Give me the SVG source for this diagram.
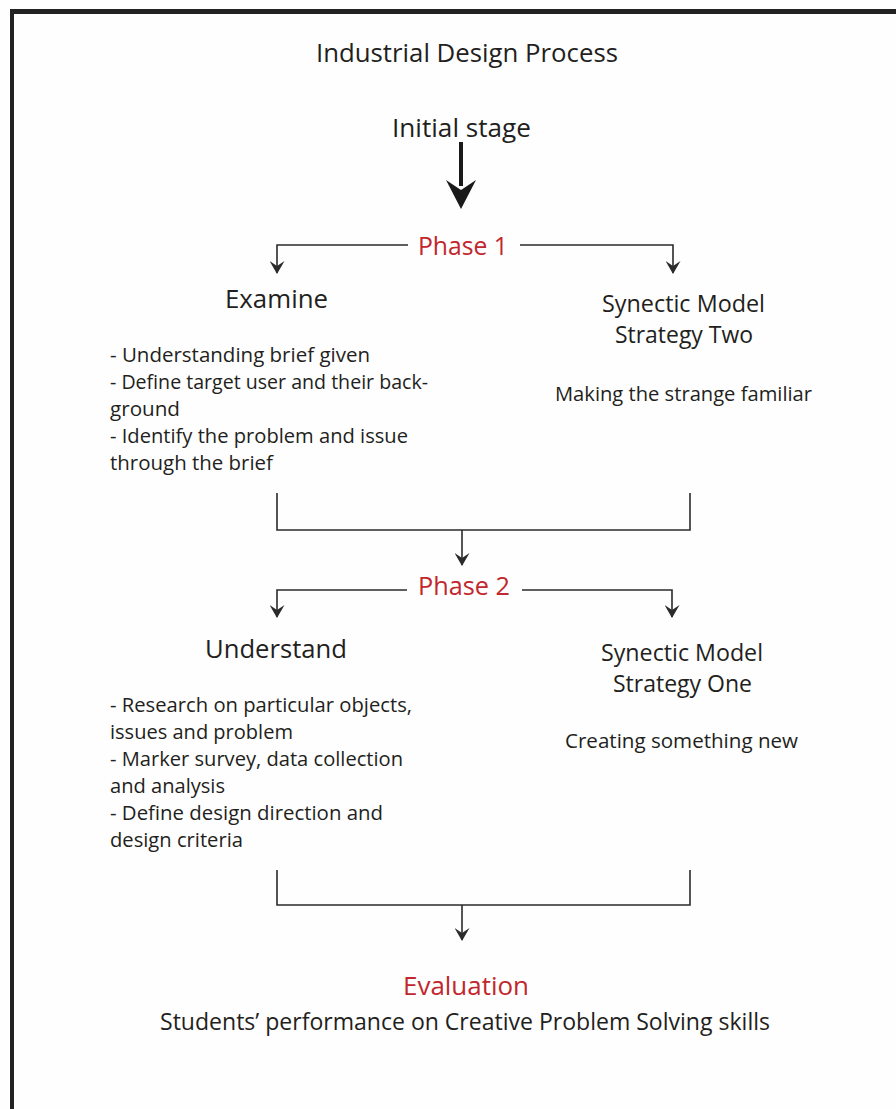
<svg xmlns="http://www.w3.org/2000/svg" width="896" height="1109" viewBox="0 0 896 1109">
<defs>
<style>
text{font-family:"Open Sans","Liberation Sans",sans-serif;fill:#231f20}
.red{fill:#c1272d}
.h{font-size:26px}
.b{font-size:19.5px}
.s{font-size:23px}
.c{fill:none;stroke:#2b2b2b;stroke-width:1.6}
</style>
<marker id="ah" markerWidth="13" markerHeight="15" refX="12" refY="7.5" orient="auto" markerUnits="userSpaceOnUse" viewBox="0 0 13 15">
<path d="M0,0 L5,7.5 L0,15 L13,7.5 Z" fill="#2b2b2b"/>
</marker>
</defs>
<rect width="896" height="1109" fill="#fefefe"/>
<g id="frame" fill="#222">
<rect x="10" y="9" width="886" height="5"/>
<rect x="10" y="9" width="4" height="1100"/>
</g>
<g id="title"><text x="316" y="62" font-size="26" textLength="302" lengthAdjust="spacingAndGlyphs">Industrial Design Process</text></g>
<g id="initial"><text class="h" x="392" y="137" textLength="139" lengthAdjust="spacingAndGlyphs">Initial stage</text></g>
<g id="phase1"><text class="h red" x="418" y="255" textLength="90" lengthAdjust="spacingAndGlyphs">Phase 1</text></g>
<g id="examine">
<text class="h" x="225" y="308" textLength="103" lengthAdjust="spacingAndGlyphs">Examine</text>
<text class="b" x="110" y="362" textLength="260" lengthAdjust="spacingAndGlyphs">- Understanding brief given</text>
<text class="b" x="110" y="389" textLength="318" lengthAdjust="spacingAndGlyphs">- Define target user and their back-</text>
<text class="b" x="110" y="416" textLength="70" lengthAdjust="spacingAndGlyphs">ground</text>
<text class="b" x="110" y="443" textLength="298" lengthAdjust="spacingAndGlyphs">- Identify the problem and issue</text>
<text class="b" x="110" y="470" textLength="163" lengthAdjust="spacingAndGlyphs">through the brief</text>
</g>
<g id="synectic2">
<text class="s" x="602" y="312" textLength="163" lengthAdjust="spacingAndGlyphs">Synectic Model</text>
<text class="s" x="615" y="343" textLength="138" lengthAdjust="spacingAndGlyphs">Strategy Two</text>
<text class="b" x="555" y="401" textLength="257" lengthAdjust="spacingAndGlyphs">Making the strange familiar</text>
</g>
<g id="phase2"><text class="h red" x="418" y="595" textLength="92" lengthAdjust="spacingAndGlyphs">Phase 2</text></g>
<g id="understand">
<text class="h" x="205" y="658" textLength="142" lengthAdjust="spacingAndGlyphs">Understand</text>
<text class="b" x="110" y="712" textLength="302" lengthAdjust="spacingAndGlyphs">- Research on particular objects,</text>
<text class="b" x="110" y="739" textLength="183" lengthAdjust="spacingAndGlyphs">issues and problem</text>
<text class="b" x="110" y="766" textLength="293" lengthAdjust="spacingAndGlyphs">- Marker survey, data collection</text>
<text class="b" x="110" y="793" textLength="115" lengthAdjust="spacingAndGlyphs">and analysis</text>
<text class="b" x="110" y="820" textLength="273" lengthAdjust="spacingAndGlyphs">- Define design direction and</text>
<text class="b" x="110" y="847" textLength="133" lengthAdjust="spacingAndGlyphs">design criteria</text>
</g>
<g id="synectic1">
<text class="s" x="601" y="661" textLength="162" lengthAdjust="spacingAndGlyphs">Synectic Model</text>
<text class="s" x="613" y="692" textLength="139" lengthAdjust="spacingAndGlyphs">Strategy One</text>
<text class="b" x="565" y="748" textLength="233" lengthAdjust="spacingAndGlyphs">Creating something new</text>
</g>
<g id="evaluation">
<text class="h red" x="403" y="995" textLength="126" lengthAdjust="spacingAndGlyphs">Evaluation</text>
<text class="s" x="160" y="1030" textLength="610" lengthAdjust="spacingAndGlyphs">Students’ performance on Creative Problem Solving skills</text>
</g>
<g id="connectors">
<line x1="461" y1="142" x2="461" y2="186" stroke="#1a1a1a" stroke-width="4"/>
<path d="M446,180 L461,190 L476,180 L461,209 Z" fill="#1a1a1a"/>
<polyline class="c" points="408,245 277,245 277,273" marker-end="url(#ah)"/>
<polyline class="c" points="520,245 673,245 673,273" marker-end="url(#ah)"/>
<polyline class="c" points="277,493 277,530 690,530 690,493"/>
<line class="c" x1="462" y1="530" x2="462" y2="565" marker-end="url(#ah)"/>
<polyline class="c" points="407,590 277,590 277,617" marker-end="url(#ah)"/>
<polyline class="c" points="522,590 672,590 672,617" marker-end="url(#ah)"/>
<polyline class="c" points="277,870 277,905 690,905 690,870"/>
<line class="c" x1="462" y1="905" x2="462" y2="940" marker-end="url(#ah)"/>
</g>
</svg>
